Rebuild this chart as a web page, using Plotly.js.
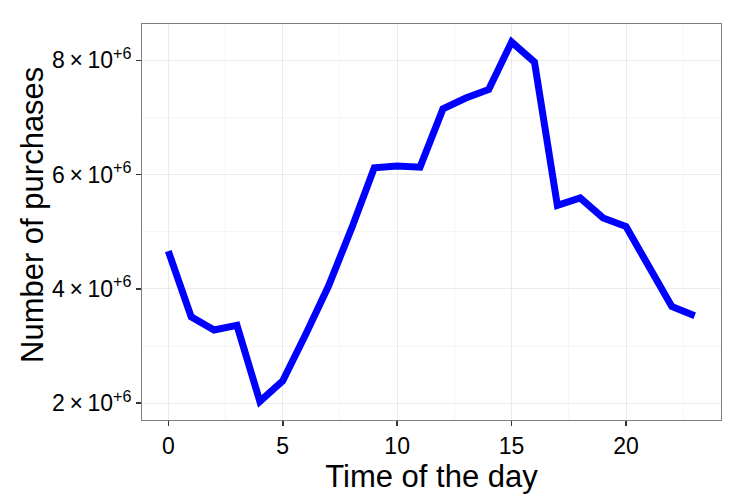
<!DOCTYPE html>
<html>
<head>
<meta charset="utf-8">
<script src="https://cdn.plot.ly/plotly-3.0.1.min.js"></script>
<style>
  html, body { margin: 0; padding: 0; background: #fff; }
  #chart { width: 747px; height: 498px; }
</style>
</head>
<body>
<div id="chart"></div>
<script>
// hours of the day and purchases per hour
var hours = [0, 1, 2, 3, 4, 5, 6, 7, 8, 9, 10, 11,
             12, 13, 14, 15, 16, 17, 18, 19, 20, 21, 22, 23];
var purchases = [4.66e6, 3.51e6, 3.28e6, 3.36e6, 2.03e6, 2.39e6, 3.2e6, 4.05e6,
                 5.05e6, 6.12e6, 6.15e6, 6.13e6, 7.15e6, 7.34e6, 7.49e6, 8.32e6,
                 7.97e6, 5.46e6, 5.59e6, 5.24e6, 5.09e6, 4.41e6, 3.69e6, 3.53e6];

var xTicks = [0, 5, 10, 15, 20];
var yTicks = [2e6, 4e6, 6e6, 8e6];
var yTickText = ['2\u2009\u00d7\u200910<sup>+6</sup>', '4\u2009\u00d7\u200910<sup>+6</sup>',
                 '6\u2009\u00d7\u200910<sup>+6</sup>', '8\u2009\u00d7\u200910<sup>+6</sup>'];

var font = 'Liberation Sans, Arial, sans-serif';

var data = [{
    type: 'scatter',
    mode: 'lines',
    x: hours,
    y: purchases,
    line: {color: '#0000ff', width: 7},
    hoverinfo: 'x+y'
}];

var layout = {
    width: 747,
    height: 498,
    margin: {l: 142, r: 26, t: 24, b: 78},
    paper_bgcolor: '#ffffff',
    plot_bgcolor: '#ffffff',
    showlegend: false,
    font: {family: font, color: '#000000'},
    xaxis: {
        range: [-1.15, 24.15],
        tickvals: xTicks,
        ticks: 'outside', ticklen: 5, tickwidth: 1.5, tickcolor: '#333333',
        tickfont: {size: 23, color: '#000000'},
        showgrid: true, gridcolor: '#ebebeb', gridwidth: 1,
        minor: {tickvals: [2.5, 7.5, 12.5, 17.5, 22.5], showgrid: true, gridcolor: '#f5f5f5', gridwidth: 1},
        zeroline: false,
        showline: true, mirror: true, linecolor: '#7f7f7f', linewidth: 1,
        title: {text: 'Time of the day', font: {size: 31, color: '#000000'}, standoff: 0}
    },
    yaxis: {
        range: [1.705e6, 8.635e6],
        tickvals: yTicks,
        ticktext: yTickText,
        ticks: 'outside', ticklen: 5, tickwidth: 1.5, tickcolor: '#333333',
        tickfont: {size: 23, color: '#000000'},
        showgrid: true, gridcolor: '#ebebeb', gridwidth: 1,
        minor: {tickvals: [3e6, 5e6, 7e6], showgrid: true, gridcolor: '#f5f5f5', gridwidth: 1},
        zeroline: false,
        showline: true, mirror: true, linecolor: '#7f7f7f', linewidth: 1
    },
    // y title drawn as an annotation so it can sit close to the tick labels
    annotations: [{
        text: 'Number of purchases',
        textangle: -90,
        xref: 'paper', yref: 'paper',
        x: 0, y: 0.5,
        xanchor: 'center', yanchor: 'middle',
        xshift: -110, yshift: 7,
        showarrow: false,
        font: {size: 31, color: '#000000'}
    }]
};

Plotly.newPlot('chart', data, layout, {displayModeBar: false, staticPlot: true});
</script>
</body>
</html>
